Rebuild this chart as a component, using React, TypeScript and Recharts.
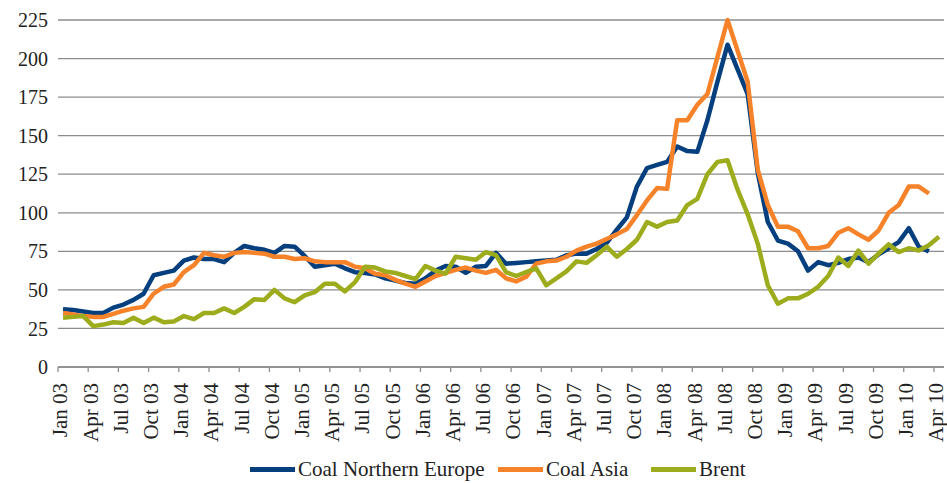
import React from "react"
import { LineChart, Line, XAxis, YAxis, CartesianGrid, Legend } from "recharts"

// monthly index values, Jan 03 .. Apr 10 (coal series stop at Mar 10)
const coalNorthernEurope = [
  37.5, 37, 36, 35, 35, 38.5, 40.5, 43.5, 47.5, 59.5, 61, 62.5,
  69, 71, 70, 70, 68, 74, 78.5, 77, 76, 74, 78.5, 78,
  72, 65, 66, 67, 64, 61.5, 61, 60, 57.5, 56, 54.5, 54,
  57.5, 62.5, 65.5, 65, 61, 65, 65.5, 74, 67, 67.5, 68, 68.5,
  69, 69.5, 72.5, 73.5, 73.5, 76.5, 80.5, 89, 97, 117, 129, 131,
  133, 143, 140, 139.5, 160, 185, 209, 193, 177, 126, 94, 82,
  80, 75, 62.5, 68, 66, 67.5, 70, 71, 68, 73, 77, 81,
  90, 78, 75,
]

const coalAsia = [
  35, 34, 33, 32.5, 32.5, 34.5, 36.5, 38, 39, 47.5, 52, 53.5,
  61.5, 66, 74, 72.5, 71.5, 74, 74.5, 74, 73.5, 71.5, 71.5, 70,
  70.5, 68.5, 68, 68, 68, 65, 64, 60.5, 59.5, 56.5, 54, 52,
  55.5, 59, 61, 63, 64.5, 62.5, 61, 63, 57.5, 55.5, 58.5, 67,
  68.5, 69, 71.5, 75.5, 78, 80, 83, 86, 89.5, 98.5, 108, 116,
  115.5, 160, 160, 170, 177, 201, 225, 205, 185, 128, 105, 91,
  91, 88, 77, 77, 78.5, 87, 90, 86, 82.5, 88.5, 100, 105,
  117, 117, 112.5,
]

const brent = [
  32, 32.5, 33, 26.5, 27.5, 29, 28.5, 32, 28.5, 32, 29, 29.5,
  33, 31, 35, 35, 38, 35, 39, 44, 43.5, 50, 44.5, 42,
  46.5, 48.5, 54, 54, 49, 55, 65, 64.5, 62, 61, 59, 57,
  65.5, 62.5, 60.5, 71.5, 70.5, 69.5, 74.5, 72.5, 61.5, 59, 61.5, 64,
  53, 57.5, 62, 68.5, 67.5, 72.5, 78, 71.5, 76.5, 82.5, 94, 91,
  94, 95, 105, 109, 125, 133, 134, 115, 99, 80, 53, 41,
  44.5, 44.5, 47.5, 52, 59, 71, 65.5, 75.5, 67, 73.5, 79.5, 74.5,
  77, 75.5, 79, 84.5,
]

const tickLabels = [
  "Jan 03", "Apr 03", "Jul 03", "Oct 03",
  "Jan 04", "Apr 04", "Jul 04", "Oct 04",
  "Jan 05", "Apr 05", "Jul 05", "Oct 05",
  "Jan 06", "Apr 06", "Jul 06", "Oct 06",
  "Jan 07", "Apr 07", "Jul 07", "Oct 07",
  "Jan 08", "Apr 08", "Jul 08", "Oct 08",
  "Jan 09", "Apr 09", "Jul 09", "Oct 09",
  "Jan 10", "Apr 10",
]

const yTicks = [0, 25, 50, 75, 100, 125, 150, 175, 200, 225]

const series = [
  { key: "ne", name: "Coal Northern Europe", color: "#053f7e" },
  { key: "asia", name: "Coal Asia", color: "#f6822a" },
  { key: "brent", name: "Brent", color: "#9dac1c" },
]

const data = brent.map((b, i) => ({
  i,
  ne: coalNorthernEurope[i] ?? null,
  asia: coalAsia[i] ?? null,
  brent: b,
}))

// ticks sit on category boundaries, one every 3 months
const xTicks = tickLabels.map((_, k) => k * 3 - 0.5)

function MonthTick({ x, y, payload }: any) {
  const k = Math.round((payload.value + 0.5) / 3)
  return (
    <text
      transform={`translate(${x + 2},${y + 9}) rotate(-90)`}
      dy="0.35em"
      textAnchor="end"
      fontFamily="Liberation Serif"
      fontSize={21}
      fill="#222"
    >
      {tickLabels[k]}
    </text>
  )
}

const legendLeft = [250, 498, 651]

function ChartLegend() {
  return (
    <div style={{ position: "relative", width: 947, height: 24 }}>
      {series.map((s, n) => (
        <div
          key={s.key}
          style={{
            position: "absolute",
            left: legendLeft[n],
            top: 0,
            height: 24,
            display: "flex",
            alignItems: "center",
            whiteSpace: "nowrap",
          }}
        >
          <span style={{ display: "inline-block", width: 45, height: 5, background: s.color }} />
          <span
            style={{
              marginLeft: 3,
              fontFamily: "'Liberation Serif'",
              fontSize: 21,
              color: "#222",
              lineHeight: "24px",
            }}
          >
            {s.name}
          </span>
        </div>
      ))}
    </div>
  )
}

export default function App() {
  return (
    <div style={{ position: "absolute", left: 0, top: 0, width: 947, height: 483, background: "#fff" }}>
      <LineChart width={947} height={483} data={data} margin={{ top: 20, right: 3, bottom: 2, left: 8 }}>
        <CartesianGrid vertical={false} stroke="#8c8c8c" strokeWidth={1.3} />
        <XAxis
          type="number"
          dataKey="i"
          domain={[-0.5, 87.5]}
          ticks={xTicks}
          interval={0}
          height={90}
          tickSize={5}
          tickMargin={2}
          stroke="#8c8c8c"
          strokeWidth={1.3}
          tick={<MonthTick />}
        />
        <YAxis
          domain={[0, 225]}
          ticks={yTicks}
          width={50}
          axisLine={false}
          tickLine={false}
          tickMargin={4}
          tick={{ fontFamily: "Liberation Serif", fontSize: 20, fill: "#222" }}
        />
        <Legend verticalAlign="bottom" content={() => <ChartLegend />} wrapperStyle={{ left: 0, width: 947 }} />
        {series.map((s) => (
          <Line
            key={s.key}
            type="linear"
            dataKey={s.key}
            name={s.name}
            stroke={s.color}
            strokeWidth={4.5}
            strokeLinejoin="round"
            dot={false}
            activeDot={false}
            isAnimationActive={false}
          />
        ))}
      </LineChart>
    </div>
  )
}
